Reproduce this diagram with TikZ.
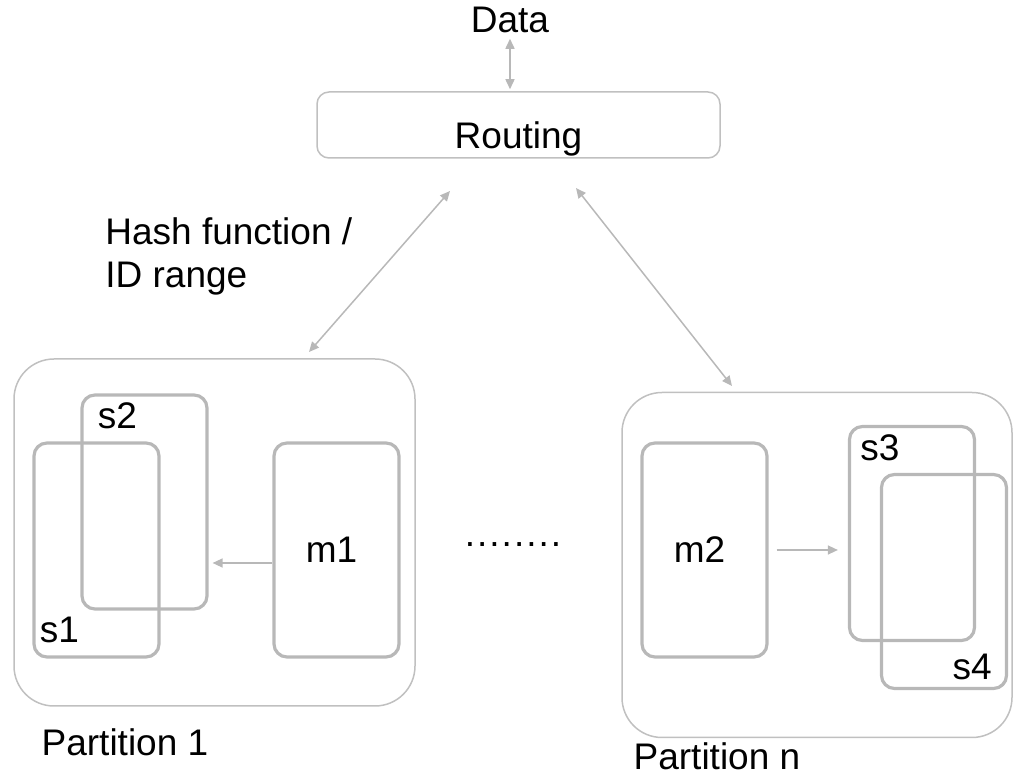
\documentclass[tikz,border=0pt]{standalone}
\usepackage{fontspec}
\setmainfont{Liberation Sans}
\usepackage{tikz}
\usepackage{xcolor}
\usetikzlibrary{positioning,arrows.meta}
\definecolor{line-gray}{RGB}{192,192,192}
\definecolor{shard-gray}{RGB}{184,184,184}

\begin{document}
\begin{tikzpicture}
[
x=0.5pt, y=-0.5pt,
>={Triangle[length=5pt, width=4.5pt]},
box-a/.style={draw=line-gray, line width=0.75pt, rounded corners=6pt, inner sep=0pt},
part-a/.style={draw=line-gray, line width=0.75pt, rounded corners=20pt, inner sep=0pt},
shard-a/.style={draw=shard-gray, line width=1.6pt, rounded corners=6.5pt, inner sep=0pt,
                minimum width=62.5pt, minimum height=107pt, font=\fontsize{18.5}{21.5}\selectfont},
text-a/.style={black, inner sep=0pt, font=\fontsize{18.5}{21.5}\selectfont},
link-a/.style={draw=shard-gray, line width=0.75pt}
]
\useasboundingbox (0,0) rectangle (1014,774);

% routing layer
\node (routing)      [box-a, minimum width=201.5pt, minimum height=33pt] at (518.5,125) {};
\node (routing-text) [text-a, anchor=base] at (518.5,149) {Routing};
\node (data)         [text-a, anchor=base] at (510,33) {Data};
\node (hash)         [text-a, anchor=north west, align=left] at (105,217) {Hash function /\\ID range};

% partitions
\node (part-1) [part-a, minimum width=200.5pt, minimum height=173.5pt] at (214.5,532.5) {};
\node (part-n) [part-a, minimum width=195pt,   minimum height=172.5pt] at (817,565)     {};
\node (part-1-txt) [text-a, below right = 11pt and 14pt of part-1.south west] {Partition 1};
\node (part-n-txt) [text-a, below right = 2pt and 6pt of part-n.south west]  {Partition n};

% shards and masters
\node (s2) [shard-a] at (144.5,502) {};
\node (s1) [shard-a] at (96.5,550)  {};
\node (m1) [shard-a] at (336.5,550) {m1\hspace*{5pt}};
\node (m2) [shard-a] at (704.5,550) {m2\hspace*{5pt}};
\node (s3) [shard-a] at (912,533.5) {};
\node (s4) [shard-a] at (944,581.5) {};
\node (s2-txt) [text-a, below right = 4.5pt and 8.5pt of s2.north west] {s2};
\node (s1-txt) [text-a, above right = 7.5pt and 3.5pt of s1.south west] {s1};
\node (s3-txt) [text-a, below right = 4.5pt and 6pt of s3.north west]   {s3};
\node (s4-txt) [text-a, above left  = 5pt and 8pt of s4.south east]     {s4};
\node (dots)   [text-a, anchor=base] at (513,547) {\addfontfeature{LetterSpace=5.5}........};

% connectors
\coordinate (hash-top)  at (450,191);
\coordinate (hash-bot)  at (309,352);
\coordinate (route-top) at (576,188);
\coordinate (route-bot) at (732,386);
\draw [link-a, <->, shorten <=2.5pt, shorten >=1pt] (data.south) -- (data.south |- routing.north);
\draw [link-a, <->] (hash-top)  -- (hash-bot);
\draw [link-a, <->] (route-top) -- (route-bot);
\draw [link-a, ->, shorten >=2pt] ([yshift=-6.5pt]m1.west) -- ([yshift=-6.5pt]m1.west -| s2.east);
\draw [link-a, ->, shorten <=4pt, shorten >=5pt] (m2.east) -- (m2.east -| s3.west);
\end{tikzpicture}
\end{document}
